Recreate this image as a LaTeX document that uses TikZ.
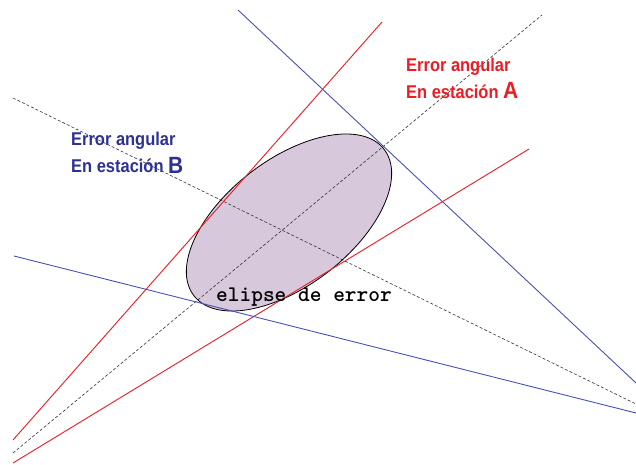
\documentclass[tikz,border=0pt]{standalone}
\usepackage{fontspec}
\setmainfont{Liberation Sans}
\newfontfamily\labfont{Liberation Sans}
\definecolor{lred}{RGB}{237,28,36}
\definecolor{lblue}{RGB}{72,82,172}
\definecolor{tnavy}{RGB}{46,49,146}
\definecolor{efill}{RGB}{216,200,220}
\tikzset{
  redline/.style={draw=lred, line width=0.9pt},
  blueline/.style={draw=lblue, line width=0.9pt},
  axisline/.style={draw=black!80, line width=0.6pt, dash pattern=on 3pt off 2pt},
  lab/.style={inner sep=0pt, anchor=base west, font=\labfont\bfseries\fontsize{18.5}{20}\selectfont},
}
\begin{document}
\begin{tikzpicture}[x=1pt,y=1pt]
\useasboundingbox (0,0) rectangle (636,464);
% ellipse
\fill[efill] (289,241.5) ellipse[x radius=120, y radius=63, rotate=37.5];
% named endpoints
\coordinate (r1a) at (13,24);   \coordinate (r1b) at (382,442);
\coordinate (r2a) at (13,1);    \coordinate (r2b) at (529,315);
\coordinate (b1a) at (238,454); \coordinate (b1b) at (636,81);
\coordinate (b2a) at (14,208);  \coordinate (b2b) at (636,51);
\coordinate (d1a) at (13,11);   \coordinate (d1b) at (542,449);
\coordinate (d2a) at (13,366);  \coordinate (d2b) at (636,60);
\draw[axisline] (d1a) -- (d1b);
\draw[axisline] (d2a) -- (d2b);
\draw[black, line width=0.8pt] (289,241.5) ellipse[x radius=120, y radius=63, rotate=37.5];
\draw[redline] (r1a) -- (r1b);
\draw[redline] (r2a) -- (r2b);
\draw[blueline] (b1a) -- (b1b);
\draw[blueline] (b2a) -- (b2b);
% labels
\node[lab, text=tnavy] (eb1) at (71,318) {\scalebox{0.89}[1]{Error angular}};
\node[lab, text=tnavy] (eb2) at (71,291) {\scalebox{0.89}[1]{En estación {\fontsize{23.5}{24}\selectfont B}}};
\node[lab, text=lred] (ea1) at (406,392) {\scalebox{0.89}[1]{Error angular}};
\node[lab, text=lred] (ea2) at (406,365) {\scalebox{0.89}[1]{En estación {\fontsize{23.5}{24}\selectfont A}}};
\node[inner sep=0pt, anchor=base west, font=\ttfamily\bfseries\fontsize{22.3}{24}\selectfont] (el) at (216,163) {elipse de error};
\end{tikzpicture}
\end{document}
